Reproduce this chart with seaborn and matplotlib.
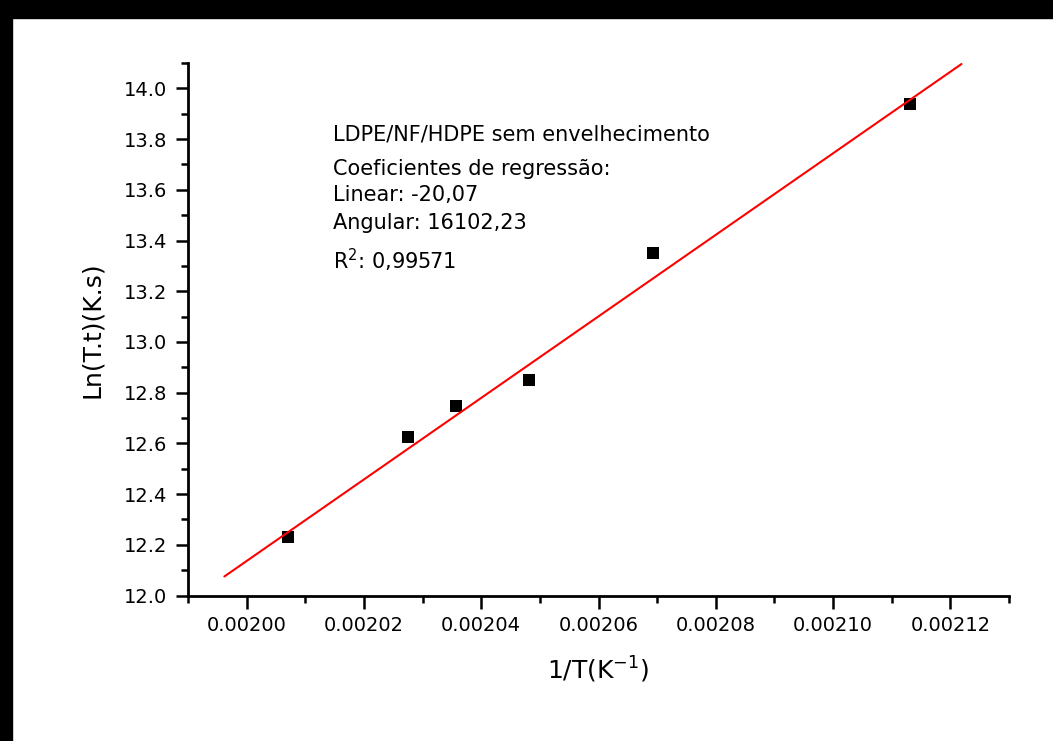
import matplotlib
matplotlib.use("Agg")
import matplotlib.pyplot as plt
import seaborn as sns
import pandas as pd
from matplotlib.ticker import MultipleLocator, FormatStrFormatter
from matplotlib.patches import Rectangle

# measured points: 1/T (K^-1) vs Ln(T.t)
inv_T = [0.0020071, 0.0020275, 0.0020357, 0.0020482, 0.0020693, 0.0021131]
ln_Tt = [12.231, 12.625, 12.747, 12.850, 13.351, 13.938]

# ends of the drawn regression line
fit_x = [0.0019962, 0.0021219]
fit_y = [12.075, 14.096]

note_lines = [
    "LDPE/NF/HDPE sem envelhecimento",
    "Coeficientes de regressão:",
    "Linear: -20,07",
    "Angular: 16102,23",
    "R$^2$: 0,99571",
]

sns.set_style("ticks")
plt.rcParams["font.family"] = ["DejaVu Sans"]
plt.rcParams["text.color"] = "black"
plt.rcParams["axes.labelcolor"] = "black"

W, H = 1053, 741
fig = plt.figure(figsize=(W / 100, H / 100), dpi=100)
ax = fig.add_axes([188 / W, 1 - 595.5 / H, (1009 - 188) / W, (595.5 - 63) / H])

pts = pd.DataFrame({"x": inv_T, "y": ln_Tt})
fit = pd.DataFrame({"x": fit_x, "y": fit_y})
sns.lineplot(data=fit, x="x", y="y", color="#ff0000", linewidth=1.5, ax=ax, zorder=3)
sns.scatterplot(data=pts, x="x", y="y", marker="s", s=80, color="black",
                edgecolor="black", linewidth=0, ax=ax, zorder=2)

ax.set_xlim(0.00199, 0.00213)
ax.set_ylim(12.0, 14.1)
ax.xaxis.set_major_locator(MultipleLocator(0.00002))
ax.xaxis.set_minor_locator(MultipleLocator(0.00001))
ax.yaxis.set_major_locator(MultipleLocator(0.2))
ax.yaxis.set_minor_locator(MultipleLocator(0.1))
ax.xaxis.set_major_formatter(FormatStrFormatter("%.5f"))
ax.yaxis.set_major_formatter(FormatStrFormatter("%.1f"))

for side in ["top", "right"]:
    ax.spines[side].set_visible(False)
for side in ["left", "bottom"]:
    ax.spines[side].set_linewidth(2.0)
    ax.spines[side].set_color("black")
ax.tick_params(which="major", direction="out", length=9, width=1.8,
               labelsize=14, pad=6, colors="black")
ax.tick_params(which="minor", direction="out", length=5, width=1.8, colors="black")

ax.set_xlabel("1/T(K$^{-1}$)", fontsize=18, labelpad=14)
ax.set_ylabel("Ln(T.t)(K.s)", fontsize=18, labelpad=14)

# annotation block with the regression results
note_y = [135, 169, 195, 223, 260]
for txt, py in zip(note_lines, note_y):
    fig.text(333 / W, 1 - py / H, txt, fontsize=15, ha="left", va="center",
             color="black")

# black frame edges of the original screenshot
fig.patches.append(Rectangle((0, 1 - 18 / H), 1, 18 / H, transform=fig.transFigure,
                             color="black", zorder=10))
fig.patches.append(Rectangle((0, 0), 12 / W, 1, transform=fig.transFigure,
                             color="black", zorder=10))

fig.savefig("out.png", dpi=100)
